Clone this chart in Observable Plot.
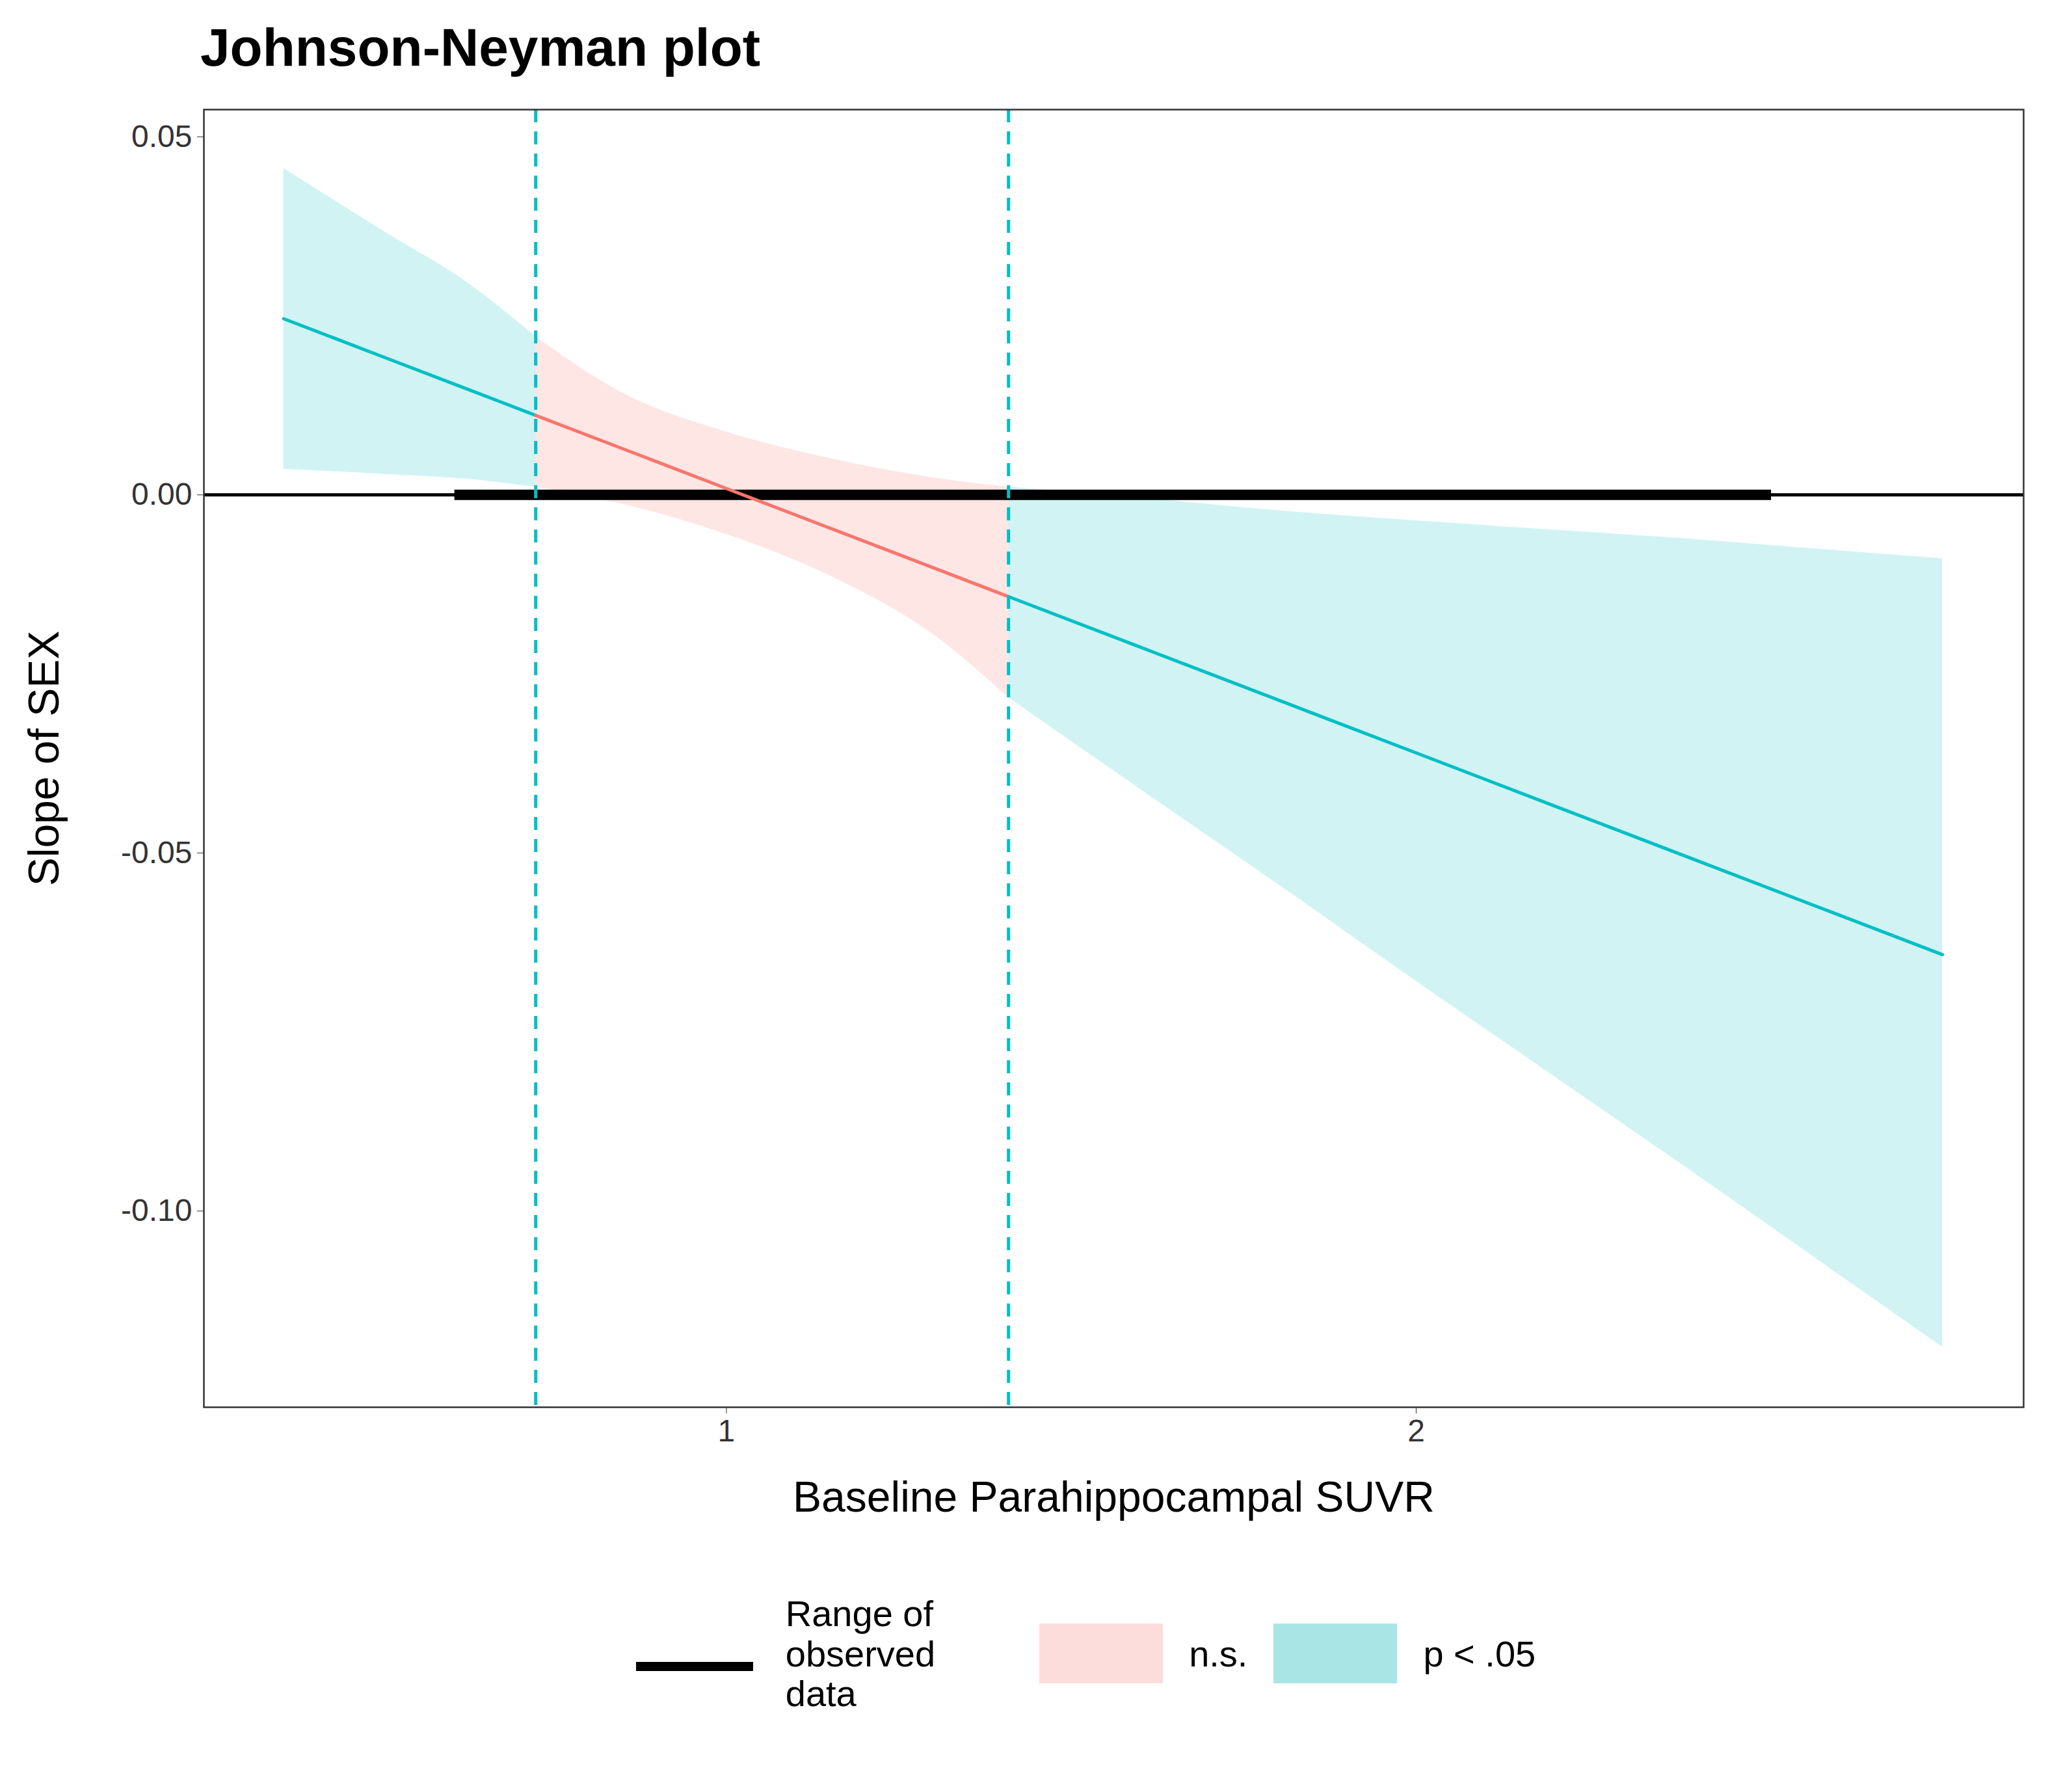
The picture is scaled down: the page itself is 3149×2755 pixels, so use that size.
<!DOCTYPE html>
<html>
<head>
<meta charset="utf-8">
<script src="https://cdn.jsdelivr.net/npm/d3@7"></script>
<script src="https://cdn.jsdelivr.net/npm/@observablehq/plot@0.6"></script>
<style>
  body { margin: 0; background: white; font-family: "Liberation Sans", Arial, sans-serif; }
  #title { height: 150px; box-sizing: border-box; padding: 26px 0 0 308px; font-size: 82px; font-weight: bold; }
  #legend { display: flex; justify-content: center; align-items: center; gap: 0; margin-top: 60px; font-size: 56px; margin-left: 190px; }
  .sw { width: 190px; height: 92px; margin-right: 40px; }
</style>
</head>
<body>
<div id="title">Johnson-Neyman plot</div>
<div id="chart"></div>
<div id="legend">
  <div style="width:180px;height:14px;background:black;margin-right:50px;margin-top:40px"></div>
  <div style="line-height:1.1;margin-right:160px">Range of<br>observed<br>data</div>
  <div class="sw" style="background:#fcdddb"></div>
  <div style="margin-right:40px">n.s.</div>
  <div class="sw" style="background:#aae5e6"></div>
  <div>p &lt; .05</div>
</div>
<script>
// conditional slope of SEX and its confidence band
const xs    = [0.358, 0.5, 0.6235, 0.7235, 0.85, 1.0, 1.15, 1.3, 1.409, 1.6, 1.8, 2.0, 2.2, 2.4, 2.6, 2.763];
const upper = [0.0456, 0.0370, 0.0297, 0.0221, 0.0142, 0.0088, 0.0051, 0.0024, 0.0011, -0.0004, -0.0022, -0.0036, -0.0049, -0.0062, -0.0077, -0.0089];
const lower = [0.0036, 0.0029, 0.0022, 0.0011, -0.0013, -0.0055, -0.0113, -0.0195, -0.0283, -0.0411, -0.0544, -0.0679, -0.0812, -0.0945, -0.1080, -0.1190];
const lineStart = [0.358, 0.0246];
const lineEnd = [2.763, -0.0642];
const jnBounds = [0.7235, 1.409];
const observedRange = [0.606, 2.515];
const xTicks = [1, 2];
const yTicks = [0.05, 0, -0.05, -0.10];

const teal = "#00BFC4", red = "#F8766D";
const slopeAt = x => lineStart[1] + (x - lineStart[0]) * (lineEnd[1] - lineStart[1]) / (lineEnd[0] - lineStart[0]);

// split into segments; boundary points belong to both sides
const segs = [
  {id: "a", sig: true, lo: -Infinity, hi: jnBounds[0]},
  {id: "b", sig: false, lo: jnBounds[0], hi: jnBounds[1]},
  {id: "c", sig: true, lo: jnBounds[1], hi: Infinity}
];
const band = [];
segs.forEach(s => xs.forEach((x, i) => {
  if (x >= s.lo && x <= s.hi) band.push({seg: s.id, sig: s.sig, x, y1: lower[i], y2: upper[i], y: slopeAt(x)});
}));

const plot = Plot.plot({
  width: 3149,
  height: 2240,
  marginTop: 18,
  marginBottom: 227,
  marginLeft: 313,
  marginRight: 38,
  x: {domain: [0.2424, 2.8807]},
  y: {domain: [-0.1274, 0.0538]},
  style: {fontFamily: "Liberation Sans, Arial, sans-serif", fontSize: "48px", color: "#333"},
  marks: [
    Plot.areaY(band, {x: "x", y1: "y1", y2: "y2", z: "seg", fill: d => d.sig ? teal : red, fillOpacity: 0.18, curve: "monotone-x"}),
    Plot.ruleY([0], {stroke: "black", strokeWidth: 5}),
    Plot.ruleY([0], {x1: observedRange[0], x2: observedRange[1], stroke: "black", strokeWidth: 16}),
    Plot.line(band, {x: "x", y: "y", z: "seg", stroke: d => d.sig ? teal : red, strokeWidth: 5}),
    Plot.ruleX(jnBounds, {stroke: teal, strokeWidth: 5, strokeDasharray: "20,14"}),
    Plot.frame({stroke: "#333", strokeWidth: 2.5}),
    Plot.axisX({ticks: xTicks, tickFormat: d3.format("d"), tickSize: 10, tickPadding: 8, label: "Baseline Parahippocampal SUVR", labelAnchor: "center", labelArrow: "none", labelOffset: 160, fontSize: 48}),
    Plot.axisY({ticks: yTicks, tickFormat: d => d.toFixed(2), tickSize: 10, tickPadding: 8, label: "Slope of SEX", labelAnchor: "center", labelArrow: "none", labelOffset: 270, fontSize: 48})
  ]
});
d3.select("#chart").append(() => plot);
d3.select(plot).selectAll("[aria-label='x-axis label'] text, [aria-label='y-axis label'] text").style("font-size", "66px").style("fill", "black");
</script>
</body>
</html>
